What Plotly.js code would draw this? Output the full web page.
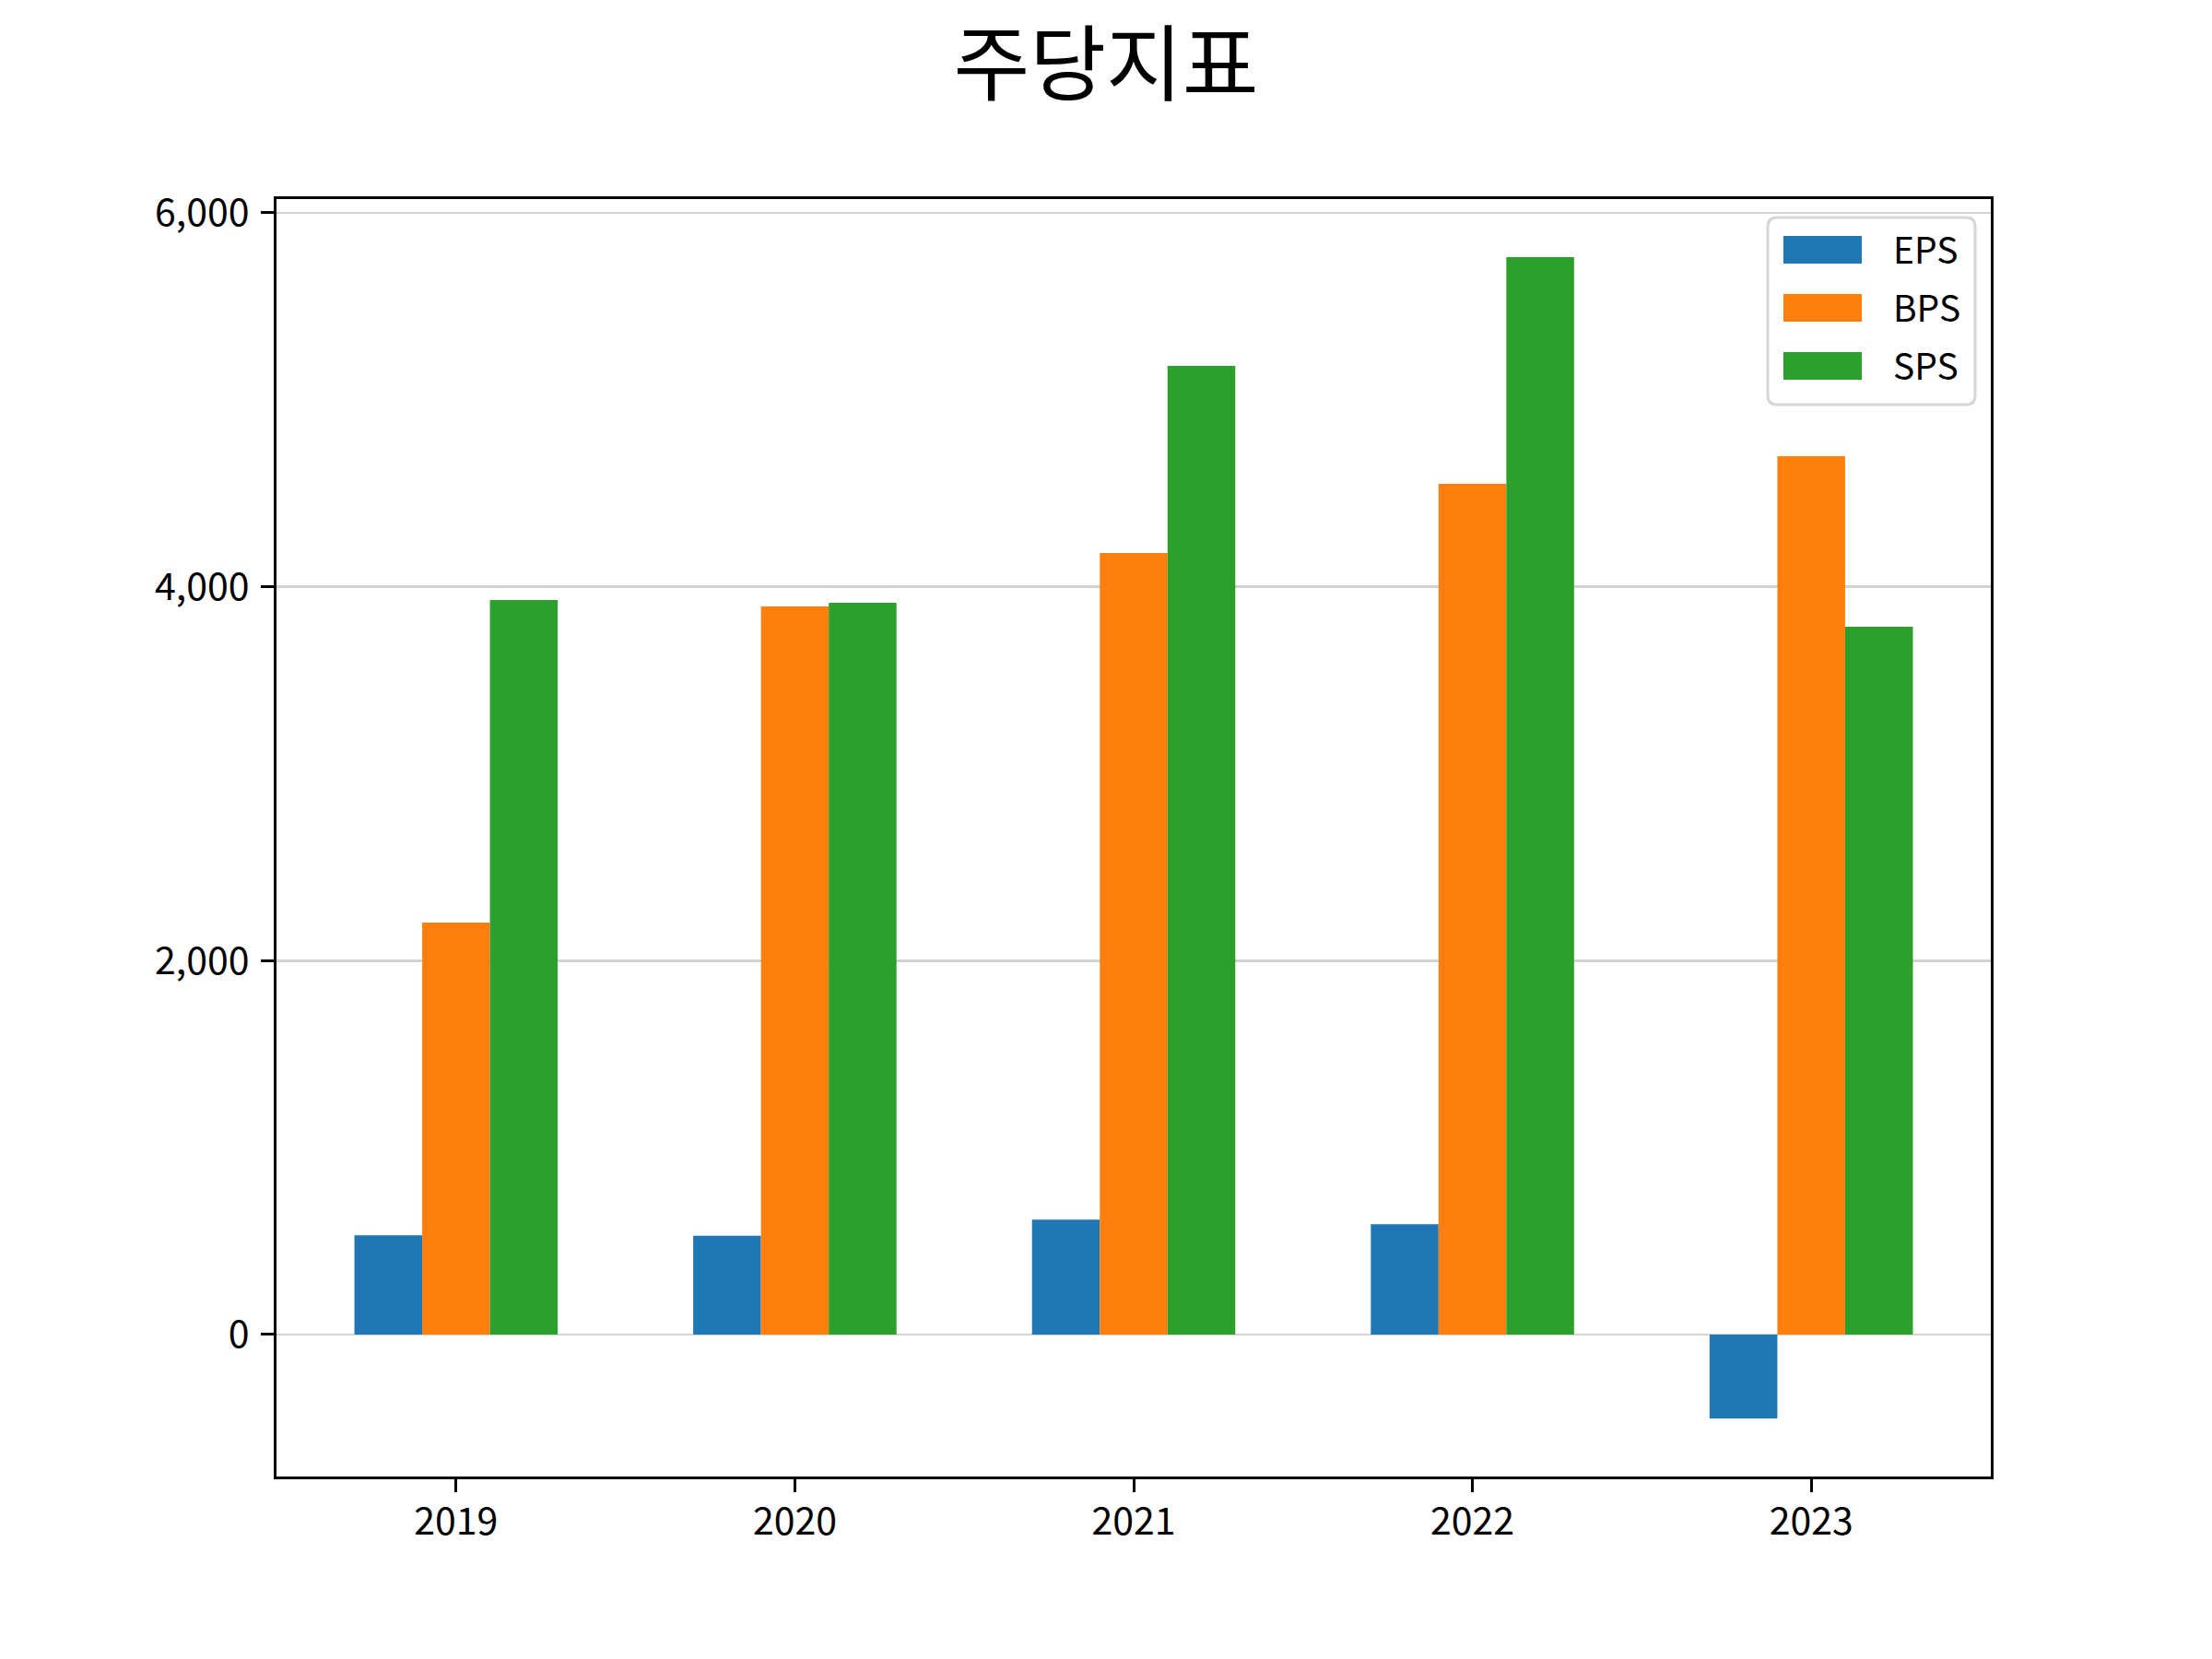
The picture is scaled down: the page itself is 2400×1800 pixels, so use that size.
<!DOCTYPE html>
<html>
<head>
<meta charset="utf-8">
<script src="https://cdn.plot.ly/plotly-3.0.1.min.js"></script>
<style>html,body{margin:0;padding:0;background:#fff;}#chart{width:2400px;height:1800px;}</style>
</head>
<body>
<div id="chart"></div>
<script>
const years = ['2019', '2020', '2021', '2022', '2023'];
const seriesNames = ['EPS', 'BPS', 'SPS'];
const eps = [531, 529, 615, 590, -449];
const bps = [2203, 3894, 4181, 4550, 4698];
const sps = [3929, 3914, 5181, 5763, 3786];
const colors = ['#1f77b4', '#ff7f0e', '#2ca02c'];
const titleText = '주당지표';

const FONT = '"Noto Sans CJK KR", "Malgun Gothic", "Noto Sans", sans-serif';
const W = 2400, H = 1800;
const L = 300, R = 2160, T = 216, B = 1602;
const PW = R - L, PH = B - T;

const values = [eps, bps, sps];
const traces = seriesNames.map((n, i) => ({
  type: 'bar', name: n, x: years, y: values[i],
  marker: {color: colors[i], line: {width: 0}},
  showlegend: false, hoverinfo: 'skip'
}));

// matplotlib-like 5% autoscale margin
const all = [].concat(eps, bps, sps, [0]);
const ymin = Math.min(...all), ymax = Math.max(...all);
const pad = (ymax - ymin) * 0.05;

// custom legend (layout only)
const px = x => (x - L) / PW;
const py = y => (B - y) / PH;
const shapes = [];
const annotations = [];
(function () {
  const x0 = 1918, x1 = 2143, y0 = 236, y1 = 439, r = 10;
  const p = (x, y) => px(x) + ',' + py(y);
  const path = 'M' + p(x0 + r, y0) + ' L' + p(x1 - r, y0) + ' Q' + p(x1, y0) + ' ' + p(x1, y0 + r) +
    ' L' + p(x1, y1 - r) + ' Q' + p(x1, y1) + ' ' + p(x1 - r, y1) +
    ' L' + p(x0 + r, y1) + ' Q' + p(x0, y1) + ' ' + p(x0, y1 - r) +
    ' L' + p(x0, y0 + r) + ' Q' + p(x0, y0) + ' ' + p(x0 + r, y0) + ' Z';
  shapes.push({type: 'path', xref: 'paper', yref: 'paper', path: path,
    fillcolor: 'rgba(255,255,255,0.85)', line: {color: '#d6d6d6', width: 3}, layer: 'above'});
  const rows = [271, 334, 397];
  seriesNames.forEach((n, i) => {
    shapes.push({type: 'rect', xref: 'paper', yref: 'paper',
      x0: px(1935), x1: px(2020), y0: py(rows[i] - 15), y1: py(rows[i] + 15),
      fillcolor: colors[i], line: {width: 0}, layer: 'above'});
    annotations.push({xref: 'paper', yref: 'paper', x: px(2052), y: py(rows[i] - 2),
      xanchor: 'left', yanchor: 'middle', text: n, showarrow: false,
      font: {family: FONT, size: 39, color: '#000'}});
  });
})();

const layout = {
  width: W, height: H,
  paper_bgcolor: '#fff', plot_bgcolor: '#fff',
  margin: {l: L, r: W - R, t: T, b: H - B, pad: 0},
  font: {family: FONT, size: 41, color: '#000'},
  title: {text: titleText, x: 0.5, xref: 'container', xanchor: 'center',
    y: 1 - 70 / H, yref: 'container', yanchor: 'middle',
    font: {family: FONT, size: 90, color: '#000'}},
  barmode: 'group', bargap: 0.4, bargroupgap: 0,
  xaxis: {type: 'category', categoryorder: 'array', categoryarray: years,
    range: [-0.53, 4.53], showgrid: false, zeroline: false,
    showline: true, mirror: true, linecolor: '#000', linewidth: 3.3,
    ticks: 'outside', ticklen: 14, tickwidth: 3, tickcolor: '#000',
    ticklabelstandoff: -4,
    tickfont: {family: FONT, size: 41, color: '#000'}, fixedrange: true},
  yaxis: {range: [ymin - pad, ymax + pad], tickmode: 'linear', tick0: 0, dtick: 2000,
    tickformat: ',d', showgrid: true, gridcolor: '#d3d3d3', gridwidth: 2.5,
    zeroline: false, layer: 'above traces',
    showline: true, mirror: true, linecolor: '#000', linewidth: 3.3,
    ticks: 'outside', ticklen: 14, tickwidth: 3, tickcolor: '#000',
    ticklabelstandoff: 4,
    tickfont: {family: FONT, size: 41, color: '#000'}, fixedrange: true},
  shapes: shapes,
  annotations: annotations,
  showlegend: false
};

Plotly.newPlot('chart', traces, layout, {staticPlot: true, displayModeBar: false});
</script>
</body>
</html>
